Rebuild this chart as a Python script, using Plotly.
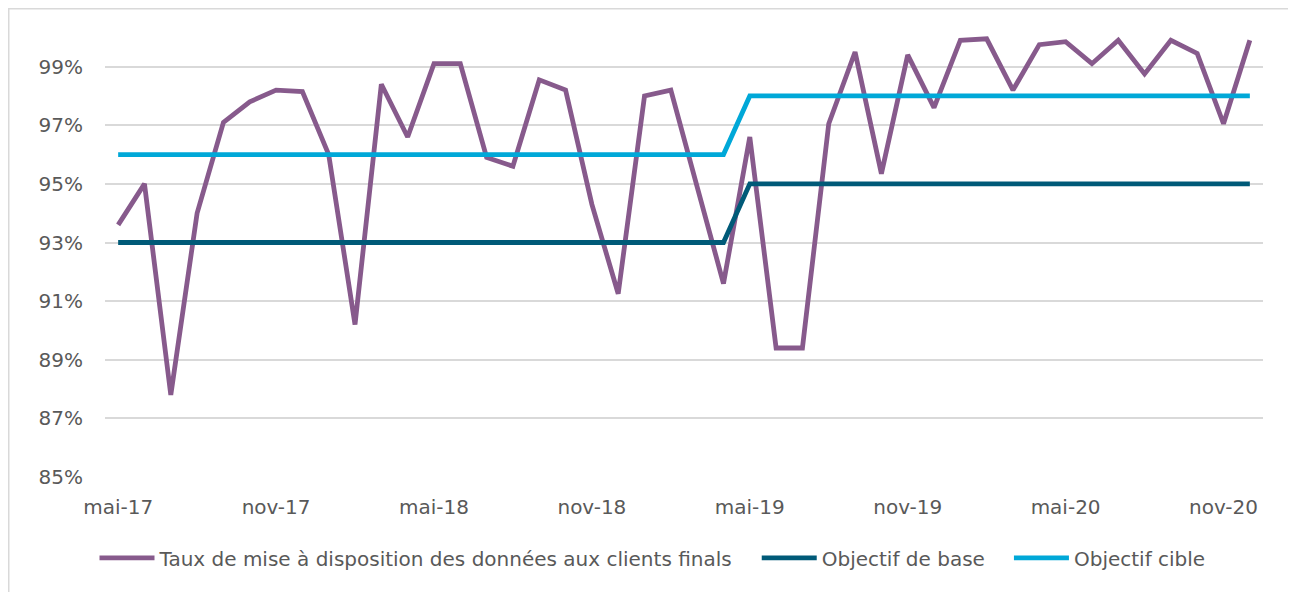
import plotly.graph_objects as go

months = ["janv", "févr", "mars", "avr", "mai", "juin", "juil", "août", "sept", "oct", "nov", "déc"]
categories = []
for yr in range(17, 21):
    for m in range(12):
        if yr == 17 and m < 4:
            continue
        categories.append(f"{months[m]}-{yr}")

taux = [93.6, 95.0, 87.8, 94.0, 97.1, 97.8, 98.2, 98.15, 96.0, 90.2,
        98.4, 96.6, 99.1, 99.1, 95.9, 95.6, 98.55, 98.2, 94.3, 91.25,
        98.0, 98.2, 94.9, 91.6, 96.6, 89.4, 89.4, 97.05, 99.5, 95.35,
        99.4, 97.6, 99.9, 99.95, 98.2, 99.75, 99.85, 99.1, 99.9, 98.75,
        99.9, 99.45, 97.05, 99.9]
objectif_base = [93.0] * 24 + [95.0] * 20
objectif_cible = [96.0] * 24 + [98.0] * 20

tick_labels = [c for i, c in enumerate(categories) if i % 6 == 0]
y_ticks = [85, 87, 89, 91, 93, 95, 97, 99]

x = list(range(len(categories)))
FONT = "DejaVu Sans"
TXT = "#595959"
PAD = "\u00a0\u00a0\u00a0"

W, H = 1288, 584
L, R, T, B = 97, 33, 0, 115
PW, PH = W - L - R, H - T - B

fig = go.Figure()
fig.add_trace(go.Scatter(x=x, y=taux, mode="lines",
                         name="Taux de mise à disposition des données aux clients finals" + PAD,
                         line=dict(color="#875A8C", width=4.8)))
fig.add_trace(go.Scatter(x=x, y=objectif_base, mode="lines", name="Objectif de base" + PAD,
                         line=dict(color="#005A78", width=4.8)))
fig.add_trace(go.Scatter(x=x, y=objectif_cible, mode="lines", name="Objectif cible",
                         line=dict(color="#00A8D8", width=4.8)))

fig.update_layout(
    width=W, height=H,
    margin=dict(l=L, r=R, t=T, b=B),
    paper_bgcolor="white", plot_bgcolor="white",
    font=dict(family=FONT, size=20, color=TXT),
    showlegend=True,
    legend=dict(orientation="h", x=0.4728, xanchor="center", y=-0.1725, yanchor="middle",
                font=dict(family=FONT, size=20, color=TXT), itemwidth=55,
                traceorder="normal", bgcolor="rgba(0,0,0,0)"),
    xaxis=dict(range=[-0.5, len(categories) - 0.5],
               tickmode="array", tickvals=[i for i in x if i % 6 == 0], ticktext=tick_labels,
               showgrid=False, zeroline=False, showline=False, ticks="",
               tickfont=dict(family=FONT, size=20, color=TXT), ticklabelstandoff=16),
    yaxis=dict(range=[85, 101], tickmode="array", tickvals=y_ticks,
               ticktext=[f"{v}%" for v in y_ticks],
               showgrid=True, gridcolor="#D9D9D9", gridwidth=1.5, zeroline=False,
               showline=False, ticks="",
               tickfont=dict(family=FONT, size=20, color=TXT), ticklabelstandoff=21),
    shapes=[dict(type="rect", xref="paper", yref="paper",
                 x0=(0.75 - L) / PW, x1=(1284 - L) / PW,
                 y0=-0.4, y1=(PH + T - 0.75) / PH,
                 line=dict(color="#D9D9D9", width=1.5), fillcolor="rgba(0,0,0,0)", layer="below")],
)

fig.write_html("out.html")
